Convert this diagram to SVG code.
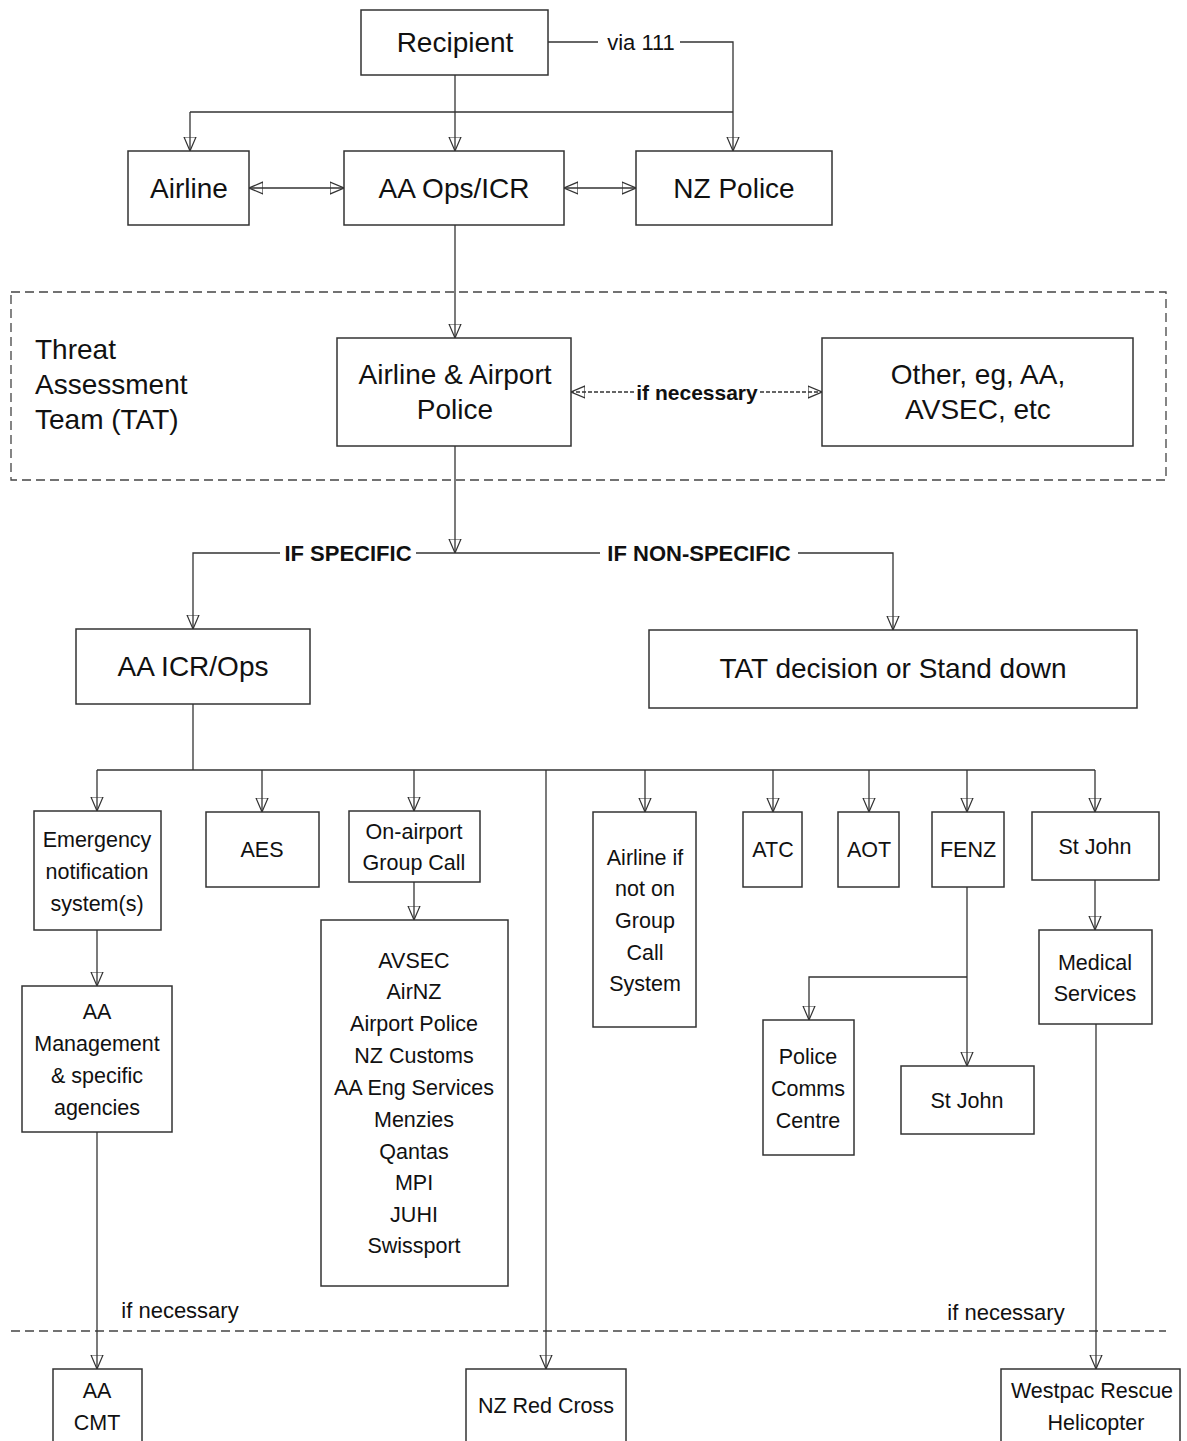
<svg xmlns="http://www.w3.org/2000/svg" width="1187" height="1441" viewBox="0 0 1187 1441">
<style>
.box{fill:#fff;stroke:#333;stroke-width:1.5}
.ln{fill:none;stroke:#333;stroke-width:1.3}
.dash{fill:none;stroke:#444;stroke-width:1.3;stroke-dasharray:9,5}
.t1{font-family:"Liberation Sans",Arial,sans-serif;font-size:28px;fill:#111;text-anchor:middle}
.t2{font-family:"Liberation Sans",Arial,sans-serif;font-size:21.5px;fill:#111;text-anchor:middle}
.lb{font-family:"Liberation Sans",Arial,sans-serif;font-size:22px;fill:#111;text-anchor:middle}
.bl{font-family:"Liberation Sans",Arial,sans-serif;font-size:21px;font-weight:bold;fill:#111;text-anchor:middle}
</style>
<defs>
<marker id="ar" viewBox="0 0 14 14" refX="14" refY="7" markerWidth="14" markerHeight="14" orient="auto-start-reverse" markerUnits="userSpaceOnUse">
<path d="M0,1 L14,7 L0,13 Z" fill="none" stroke="#333" stroke-width="1.2" stroke-dasharray="none"/>
</marker>
</defs>
<rect width="1187" height="1441" fill="#fff"/>

<g id="tat-frame">
<rect class="dash" x="11" y="292" width="1155" height="188"/>
<text class="t1" style="text-anchor:start" x="35" y="359">Threat</text>
<text class="t1" style="text-anchor:start" x="35" y="394">Assessment</text>
<text class="t1" style="text-anchor:start" x="35" y="429">Team (TAT)</text>
</g>
<g id="separator">
<line class="dash" x1="11" y1="1331" x2="1166" y2="1331"/>
</g>

<g id="connectors">
<path class="ln" d="M190,112 H733"/>
<path class="ln" d="M190,112 V151" marker-end="url(#ar)"/>
<path class="ln" d="M455,75 V151" marker-end="url(#ar)"/>
<path class="ln" d="M548,42 H598"/>
<path class="ln" d="M680,42 H733 V151" marker-end="url(#ar)"/>
<text class="lb" x="641" y="50">via 111</text>
<path class="ln" d="M249,188 H344" marker-start="url(#ar)" marker-end="url(#ar)"/>
<path class="ln" d="M564,188 H636" marker-start="url(#ar)" marker-end="url(#ar)"/>
<path class="ln" d="M455,225 V338" marker-end="url(#ar)"/>
<path class="ln" style="stroke-dasharray:4,2" d="M634,392 H571" marker-end="url(#ar)"/>
<path class="ln" style="stroke-dasharray:4,2" d="M760,392 H822" marker-end="url(#ar)"/>
<text class="bl" x="697" y="400">if necessary</text>
<path class="ln" d="M455,446 V553" marker-end="url(#ar)"/>
<path class="ln" d="M280,553 H193 V629" marker-end="url(#ar)"/>
<path class="ln" d="M416,553 H600"/>
<path class="ln" d="M798,553 H893 V630" marker-end="url(#ar)"/>
<text class="bl" style="font-size:22px" x="348" y="561">IF SPECIFIC</text>
<text class="bl" style="font-size:22px" x="699" y="561">IF NON-SPECIFIC</text>
<path class="ln" d="M193,704 V770"/>
<path class="ln" d="M97,770 H1095"/>
<path class="ln" d="M97,770 V811" marker-end="url(#ar)"/>
<path class="ln" d="M262,770 V812" marker-end="url(#ar)"/>
<path class="ln" d="M414,770 V811" marker-end="url(#ar)"/>
<path class="ln" d="M645,770 V812" marker-end="url(#ar)"/>
<path class="ln" d="M773,770 V812" marker-end="url(#ar)"/>
<path class="ln" d="M869,770 V812" marker-end="url(#ar)"/>
<path class="ln" d="M967,770 V812" marker-end="url(#ar)"/>
<path class="ln" d="M1095,770 V812" marker-end="url(#ar)"/>
<path class="ln" d="M546,770 V1369" marker-end="url(#ar)"/>
<path class="ln" d="M414,882 V920" marker-end="url(#ar)"/>
<path class="ln" d="M97,930 V986" marker-end="url(#ar)"/>
<path class="ln" d="M97,1132 V1369" marker-end="url(#ar)"/>
<path class="ln" d="M967,887 V1066" marker-end="url(#ar)"/>
<path class="ln" d="M967,977 H809 V1020" marker-end="url(#ar)"/>
<path class="ln" d="M1095,880 V930" marker-end="url(#ar)"/>
<path class="ln" d="M1096,1024 V1369" marker-end="url(#ar)"/>
<text class="lb" x="180" y="1318">if necessary</text>
<text class="lb" x="1006" y="1320">if necessary</text>
</g>

<g id="recipient"><rect class="box" x="361" y="10" width="187" height="65"/><text class="t1" x="455" y="52">Recipient</text></g>
<g id="airline"><rect class="box" x="128" y="151" width="121" height="74"/><text class="t1" x="189" y="198">Airline</text></g>
<g id="aa-ops-icr"><rect class="box" x="344" y="151" width="220" height="74"/><text class="t1" x="454" y="198">AA Ops/ICR</text></g>
<g id="nz-police"><rect class="box" x="636" y="151" width="196" height="74"/><text class="t1" x="734" y="198">NZ Police</text></g>
<g id="airline-airport-police"><rect class="box" x="337" y="338" width="234" height="108"/><text class="t1" x="455" y="384">Airline &amp; Airport</text><text class="t1" x="455" y="419">Police</text></g>
<g id="other"><rect class="box" x="822" y="338" width="311" height="108"/><text class="t1" x="978" y="384">Other, eg, AA,</text><text class="t1" x="978" y="419">AVSEC, etc</text></g>
<g id="aa-icr-ops"><rect class="box" x="76" y="629" width="234" height="75"/><text class="t1" x="193" y="676">AA ICR/Ops</text></g>
<g id="tat-decision"><rect class="box" x="649" y="630" width="488" height="78"/><text class="t1" x="893" y="678">TAT decision or Stand down</text></g>

<g id="emergency"><rect class="box" x="34" y="811" width="127" height="119"/><text class="t2" x="97" y="847">Emergency</text><text class="t2" x="97" y="879">notification</text><text class="t2" x="97" y="911">system(s)</text></g>
<g id="aes"><rect class="box" x="206" y="812" width="113" height="75"/><text class="t2" x="262" y="857">AES</text></g>
<g id="on-airport"><rect class="box" x="349" y="811" width="131" height="71"/><text class="t2" x="414" y="839">On-airport</text><text class="t2" x="414" y="870">Group Call</text></g>
<g id="group-list"><rect class="box" x="321" y="920" width="187" height="366"/>
<text class="t2" x="414" y="968">AVSEC</text><text class="t2" x="414" y="999">AirNZ</text><text class="t2" x="414" y="1031">Airport Police</text><text class="t2" x="414" y="1063">NZ Customs</text><text class="t2" x="414" y="1095">AA Eng Services</text><text class="t2" x="414" y="1127">Menzies</text><text class="t2" x="414" y="1159">Qantas</text><text class="t2" x="414" y="1190">MPI</text><text class="t2" x="414" y="1222">JUHI</text><text class="t2" x="414" y="1253">Swissport</text></g>
<g id="aa-management"><rect class="box" x="22" y="986" width="150" height="146"/><text class="t2" x="97" y="1019">AA</text><text class="t2" x="97" y="1051">Management</text><text class="t2" x="97" y="1083">&amp; specific</text><text class="t2" x="97" y="1115">agencies</text></g>
<g id="airline-if"><rect class="box" x="593" y="812" width="103" height="215"/><text class="t2" x="645" y="865">Airline if</text><text class="t2" x="645" y="896">not on</text><text class="t2" x="645" y="928">Group</text><text class="t2" x="645" y="960">Call</text><text class="t2" x="645" y="991">System</text></g>
<g id="atc"><rect class="box" x="743" y="812" width="59" height="75"/><text class="t2" x="773" y="857">ATC</text></g>
<g id="aot"><rect class="box" x="838" y="812" width="61" height="75"/><text class="t2" x="869" y="857">AOT</text></g>
<g id="fenz"><rect class="box" x="932" y="812" width="72" height="75"/><text class="t2" x="968" y="857">FENZ</text></g>
<g id="st-john"><rect class="box" x="1032" y="812" width="127" height="68"/><text class="t2" x="1095" y="854">St John</text></g>
<g id="police-comms"><rect class="box" x="763" y="1020" width="91" height="135"/><text class="t2" x="808" y="1064">Police</text><text class="t2" x="808" y="1096">Comms</text><text class="t2" x="808" y="1128">Centre</text></g>
<g id="st-john-2"><rect class="box" x="901" y="1066" width="133" height="68"/><text class="t2" x="967" y="1108">St John</text></g>
<g id="medical"><rect class="box" x="1039" y="930" width="113" height="94"/><text class="t2" x="1095" y="970">Medical</text><text class="t2" x="1095" y="1001">Services</text></g>
<g id="aa-cmt"><rect class="box" x="53" y="1369" width="89" height="80"/><text class="t2" x="97" y="1398">AA</text><text class="t2" x="97" y="1430">CMT</text></g>
<g id="nz-red-cross"><rect class="box" x="466" y="1369" width="160" height="80"/><text class="t2" x="546" y="1413">NZ Red Cross</text></g>
<g id="westpac"><rect class="box" x="1001" y="1369" width="179" height="80"/><text class="t2" x="1092" y="1398">Westpac Rescue</text><text class="t2" x="1096" y="1430">Helicopter</text></g>
</svg>
